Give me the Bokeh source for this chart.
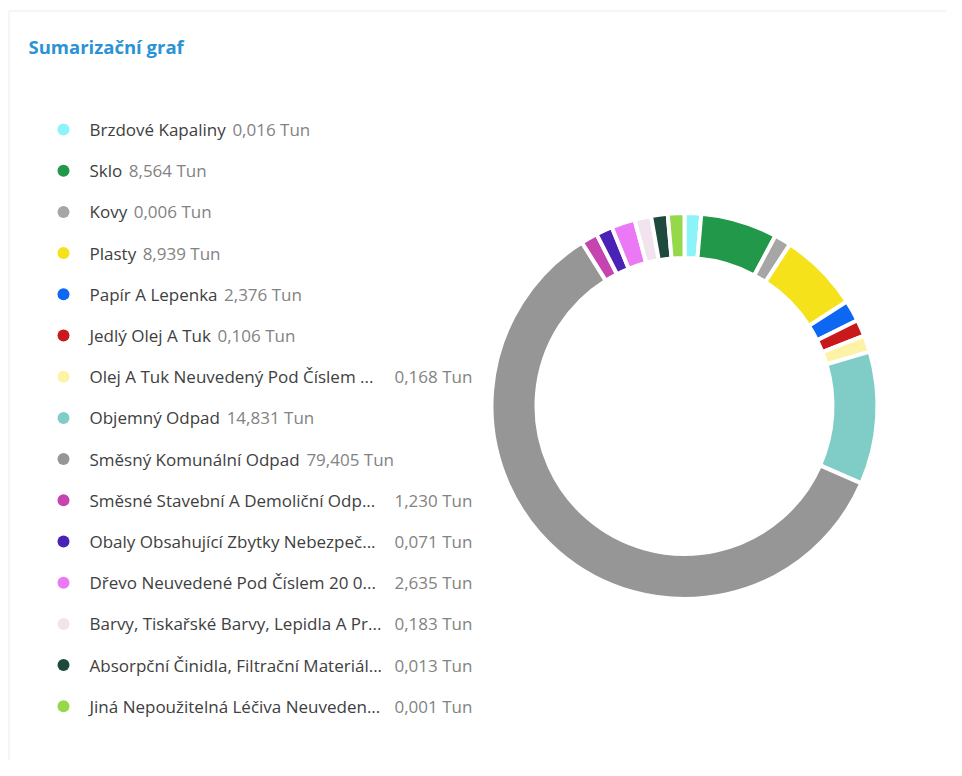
import glob, os, struct, math
from bokeh.plotting import figure
from bokeh.models import ColumnDataSource, Range1d
from bokeh.embed import file_html
from bokeh.resources import INLINE
from bokeh.core.properties import value

# ---------------- data ----------------
names = [
    "Brzdové Kapaliny",
    "Sklo",
    "Kovy",
    "Plasty",
    "Papír A Lepenka",
    "Jedlý Olej A Tuk",
    "Olej A Tuk Neuvedený Pod Číslem ...",
    "Objemný Odpad",
    "Směsný Komunální Odpad",
    "Směsné Stavební A Demoliční Odp...",
    "Obaly Obsahující Zbytky Nebezpeč...",
    "Dřevo Neuvedené Pod Číslem 20 0...",
    "Barvy, Tiskařské Barvy, Lepidla A Pr...",
    "Absorpční Činidla, Filtrační Materiál...",
    "Jiná Nepoužitelná Léčiva Neuveden...",
]
tons = [0.016, 8.564, 0.006, 8.939, 2.376, 0.106, 0.168, 14.831, 79.405,
        1.230, 0.071, 2.635, 0.183, 0.013, 0.001]
colors = ["#8cf3f9", "#22984a", "#a6a6a6", "#f6e21a", "#0c67f2", "#c8191d",
          "#fdf2a6", "#80cdc7", "#969696", "#c644b0", "#4a22b6", "#eb79f5",
          "#f1e4ee", "#1d4a3d", "#95d94b"]
unit = "Tun"
title_text = "Sumarizační graf"

# ---------------- layout / style (screen px) ----------------
W, H = 946, 760
FONT = "Open Sans"
FS = 17
MIN_ANGLE = 5.0           # degrees, minimum displayed slice
CX, CY = 684, H - 405.5   # donut centre
R_OUT, R_IN = 191, 150
GAP = 4.0
LEG_DOT_X, LEG_TEXT_X = 63, 89
LEG_TOP, LEG_STEP = 129, 41.2
VALUE_COL = 305


# ---------- text measuring via a tiny TrueType reader ----------
def _load_font_metrics():
    pats = ["/usr/share/fonts/**/*OpenSans*", "/usr/local/share/fonts/**/*OpenSans*",
            os.path.expanduser("~/.fonts/**/*OpenSans*"),
            "/usr/share/fonts/**/*Open*Sans*"]
    files = []
    for p in pats:
        files += glob.glob(p, recursive=True)
    files = [f for f in files if f.lower().endswith(".ttf")]
    def score(f):
        b = os.path.basename(f).lower()
        s = 0
        if "italic" in b: s += 10
        if "bold" in b or "semi" in b or "light" in b or "extra" in b or "medium" in b: s += 5
        if "condensed" in b: s += 10
        if "regular" in b: s -= 2
        return s
    files.sort(key=score)
    for f in files:
        try:
            return _parse_ttf(f)
        except Exception:
            continue
    return None


def _parse_ttf(path):
    d = open(path, "rb").read()
    n = struct.unpack(">H", d[4:6])[0]
    tabs = {}
    for i in range(n):
        o = 12 + 16 * i
        tag = d[o:o + 4].decode("latin-1")
        off, ln = struct.unpack(">II", d[o + 8:o + 16])
        tabs[tag] = off
    upem = struct.unpack(">H", d[tabs["head"] + 18:tabs["head"] + 20])[0]
    nh = struct.unpack(">H", d[tabs["hhea"] + 34:tabs["hhea"] + 36])[0]
    hm = tabs["hmtx"]
    adv = [struct.unpack(">H", d[hm + 4 * i:hm + 4 * i + 2])[0] for i in range(nh)]
    cm = tabs["cmap"]
    nsub = struct.unpack(">H", d[cm + 2:cm + 4])[0]
    subs = []
    for i in range(nsub):
        pid, eid, off = struct.unpack(">HHI", d[cm + 4 + 8 * i:cm + 12 + 8 * i])
        subs.append((pid, eid, cm + off))
    cmap = {}
    for pid, eid, so in subs:
        fmt = struct.unpack(">H", d[so:so + 2])[0]
        if fmt == 12:
            ng = struct.unpack(">I", d[so + 12:so + 16])[0]
            for g in range(ng):
                a, b, sg = struct.unpack(">III", d[so + 16 + 12 * g:so + 28 + 12 * g])
                if a > 0x2FFF:
                    continue
                for c in range(a, min(b, 0x2FFF) + 1):
                    cmap[c] = sg + (c - a)
            break
    if not cmap:
        for pid, eid, so in subs:
            fmt = struct.unpack(">H", d[so:so + 2])[0]
            if fmt != 4:
                continue
            segx2 = struct.unpack(">H", d[so + 6:so + 8])[0]
            seg = segx2 // 2
            ends = struct.unpack(">%dH" % seg, d[so + 14:so + 14 + segx2])
            starts = struct.unpack(">%dH" % seg, d[so + 16 + segx2:so + 16 + 2 * segx2])
            deltas = struct.unpack(">%dh" % seg, d[so + 16 + 2 * segx2:so + 16 + 3 * segx2])
            rpos = so + 16 + 3 * segx2
            ranges = struct.unpack(">%dH" % seg, d[rpos:rpos + segx2])
            for i in range(seg):
                for c in range(starts[i], min(ends[i], 0x2FFF) + 1):
                    if c == 0xFFFF:
                        continue
                    if ranges[i] == 0:
                        g = (c + deltas[i]) & 0xFFFF
                    else:
                        addr = rpos + 2 * i + ranges[i] + 2 * (c - starts[i])
                        g = struct.unpack(">H", d[addr:addr + 2])[0]
                        if g:
                            g = (g + deltas[i]) & 0xFFFF
                    cmap[c] = g
            break
    return upem, adv, cmap


_METRICS = None
try:
    _METRICS = _load_font_metrics()
except Exception:
    _METRICS = None


def text_width(s, size):
    if _METRICS:
        upem, adv, cmap = _METRICS
        tot = 0
        for ch in s:
            g = cmap.get(ord(ch), 0)
            tot += adv[g] if g < len(adv) else adv[-1]
        return tot * size / upem
    return len(s) * size * 0.55


# ---------------- slice angles (min angle rule) ----------------
total = sum(tons)
raw = [v / total * 360.0 for v in tons]
small = [a < MIN_ANGLE for a in raw]
rest = 360.0 - MIN_ANGLE * sum(small)
big_sum = sum(v for v, s in zip(tons, small) if not s)
angles = [MIN_ANGLE if s else rest * v / big_sum for v, s in zip(tons, small)]
cum = [0.0]
for a in angles:
    cum.append(cum[-1] + a)
start = [math.pi / 2 - math.radians(c) for c in cum[:-1]]
end = [math.pi / 2 - math.radians(c) for c in cum[1:]]

donut = ColumnDataSource(dict(start=start, end=end, color=colors, name=names))

# ---------------- legend layout ----------------
row_y = [H - (LEG_TOP + i * LEG_STEP) for i in range(len(names))]
value_txt = [f"{v:.3f}".replace(".", ",") + " " + unit for v in tons]
value_x = []
for n in names:
    w = text_width(n, FS)
    x = LEG_TEXT_X + w + FS * 0.38
    if n.endswith("..."):
        x = max(x, LEG_TEXT_X + VALUE_COL)
    value_x.append(x)
leg = ColumnDataSource(dict(y=row_y, color=colors, name=names, vx=value_x, vt=value_txt))

# ---------------- figure ----------------
p = figure(width=W, height=H, output_backend="svg", toolbar_location=None,
           x_range=Range1d(0, W), y_range=Range1d(0, H),
           x_axis_location=None, y_axis_location=None, min_border=0)
p.grid.visible = False
p.outline_line_color = None
p.background_fill_color = "white"
p.border_fill_color = "white"

# card border
p.quad(left=[8.5], right=[W + 20], top=[H - 10.5], bottom=[-20],
       fill_color=None, line_color="#ececec", line_width=1)

# title
p.text(x=[28], y=[H - 46], text=[title_text], text_font=value(FONT),
       text_font_size="18.5px", text_font_style="bold", text_color="#2a93d5",
       text_baseline="middle", text_align="left")

# donut
p.annular_wedge(x=CX, y=CY, inner_radius=R_IN - GAP / 2, outer_radius=R_OUT + GAP / 2,
                start_angle="start", end_angle="end", direction="clock",
                fill_color="color", line_color="white", line_width=GAP, source=donut)

# legend
p.scatter(x=LEG_DOT_X, y="y", size=12, marker="circle", fill_color="color",
          line_color=None, source=leg)
p.text(x=LEG_TEXT_X, y="y", text="name", text_font=value(FONT), text_font_size=f"{FS}px",
       text_color="#404040", text_baseline="middle", text_align="left", source=leg)
p.text(x="vx", y="y", text="vt", text_font=value(FONT), text_font_size=f"{FS}px",
       text_color="#838383", text_baseline="middle", text_align="left", source=leg)

open("out.html", "w").write(file_html(p, INLINE))
